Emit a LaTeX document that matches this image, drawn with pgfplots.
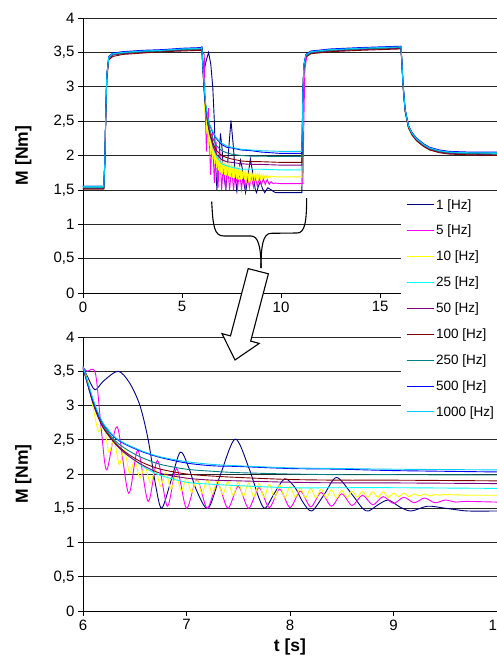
\documentclass[border=0pt]{standalone}
\usepackage{fontspec}
\setmainfont{Liberation Sans}
\usepackage{pgfplots}
\pgfplotsset{compat=1.18}
\usepackage{pgfplotstable}

\definecolor{cOne}{RGB}{0,0,128}
\definecolor{cFive}{RGB}{255,0,255}
\definecolor{cTen}{RGB}{255,255,0}
\definecolor{cTwentyFive}{RGB}{0,255,255}
\definecolor{cFifty}{RGB}{128,0,128}
\definecolor{cHundred}{RGB}{128,0,0}
\definecolor{cTwoFifty}{RGB}{0,128,128}
\definecolor{cFiveHundred}{RGB}{0,0,255}
\definecolor{cThousand}{RGB}{0,204,255}

% 1 Hz
\pgfplotstableread{
t v
0 1.55
1.05 1.55
1.1 1.9
1.15 2.6
1.2 3.15
1.3 3.43
1.5 3.48
2 3.5
3 3.52
4 3.53
5 3.54
5.95 3.56
6.0 3.57
6.05 3.4
6.116 3.23
6.2 3.36
6.34 3.5
6.45 3.33
6.55 3.0
6.63 2.5
6.7 1.85
6.76 1.5
6.85 1.9
6.94 2.32
7.02 2.1
7.1 1.75
7.21 1.5
7.33 2.0
7.47 2.51
7.6 2.1
7.7 1.65
7.76 1.5
7.85 1.72
7.95 1.93
8.05 1.8
8.12 1.6
8.21 1.46
8.33 1.7
8.45 1.95
8.6 1.7
8.7 1.5
8.76 1.46
8.85 1.55
8.95 1.62
9.06 1.52
9.17 1.46
9.33 1.53
9.5 1.5
9.6 1.48
9.72 1.46
10.0 1.46
11.05 1.46
11.1 2.9
11.15 3.3
11.25 3.46
11.5 3.51
12.5 3.54
14 3.56
15 3.57
16.05 3.58
16.1 3.36
16.15 3.06
16.26 2.67
16.43 2.43
16.6 2.33
16.85 2.24
17.2 2.16
17.5 2.11
18 2.07
18.5 2.05
19.5 2.04
20.9 2.03
}\tOne

% 5 Hz
\pgfplotstableread{
t v
0 1.52
1.05 1.52
1.1 1.88
1.15 2.58
1.2 3.13
1.3 3.42
1.5 3.47
2 3.5
3 3.52
4 3.53
5 3.55
5.95 3.56
6.0 3.55
6.04 3.50
6.12 3.47
6.18 2.60
6.23 2.06
6.33 2.69
6.44 1.72
6.53 2.35
6.63 1.60
6.72 2.20
6.815 1.53
6.905 2.08
7.00 1.50
7.10 1.92
7.20 1.50
7.30 1.86
7.40 1.50
7.50 1.82
7.60 1.50
7.70 1.80
7.80 1.51
7.90 1.78
8.00 1.51
8.10 1.75
8.20 1.52
8.30 1.73
8.40 1.53
8.50 1.71
8.60 1.54
8.70 1.69
8.80 1.55
8.90 1.67
9.00 1.57
9.10 1.66
9.20 1.58
9.30 1.65
9.40 1.58
9.50 1.62
9.60 1.59
9.70 1.60
10.0 1.59
11.1 1.59
11.15 2.5
11.2 3.25
11.3 3.45
11.5 3.5
12.5 3.53
14 3.55
15 3.57
16.05 3.58
16.1 3.35
16.15 3.05
16.26 2.66
16.43 2.42
16.6 2.32
16.85 2.23
17.2 2.15
17.5 2.10
18 2.06
18.5 2.04
19.5 2.03
20.9 2.02
}\tFive

% 10 Hz
\pgfplotstableread{
t v
0 1.52
1.05 1.52
1.1 1.9
1.15 2.6
1.2 3.15
1.3 3.42
1.5 3.47
2 3.49
3 3.51
4 3.52
5 3.54
5.95 3.55
6.00 3.55
6.05 3.35
6.10 2.95
6.15 2.62
6.20 2.72
6.25 2.32
6.30 2.50
6.35 2.14
6.40 2.35
6.45 2.01
6.50 2.20
6.55 1.94
6.60 2.12
6.65 1.87
6.70 2.06
6.75 1.82
6.80 2.02
6.85 1.78
6.90 1.98
6.95 1.75
7.00 1.94
7.05 1.73
7.10 1.93
7.15 1.72
7.20 1.92
7.25 1.71
7.30 1.90
7.35 1.70
7.40 1.89
7.45 1.69
7.50 1.88
7.55 1.68
7.60 1.87
7.65 1.67
7.70 1.86
7.75 1.66
7.80 1.85
7.85 1.65
7.90 1.84
7.95 1.65
8.00 1.82
8.05 1.66
8.10 1.80
8.15 1.65
8.20 1.79
8.25 1.65
8.30 1.78
8.35 1.65
8.40 1.77
8.45 1.65
8.50 1.76
8.55 1.66
8.60 1.75
8.65 1.66
8.70 1.75
8.75 1.66
8.80 1.74
8.85 1.66
8.90 1.74
8.95 1.66
9.00 1.72
9.05 1.67
9.10 1.72
9.15 1.67
9.20 1.71
9.25 1.68
9.30 1.71
9.35 1.68
9.40 1.70
9.45 1.69
9.50 1.70
9.75 1.69
10.0 1.69
11.05 1.69
11.1 2.9
11.15 3.3
11.25 3.45
11.5 3.5
12.5 3.53
14 3.55
15 3.56
16.05 3.57
16.1 3.35
16.15 3.05
16.26 2.66
16.43 2.42
16.6 2.32
16.85 2.23
17.2 2.15
17.5 2.10
18 2.06
18.5 2.04
19.5 2.03
20.9 2.02
}\tTen

% 25 Hz
\pgfplotstableread{
t v
0 1.53
1.05 1.53
1.1 1.9
1.15 2.6
1.2 3.15
1.3 3.43
1.5 3.48
2 3.5
3 3.52
4 3.53
5 3.55
5.95 3.56
6.0 3.55
6.05 3.3
6.1 3.05
6.15 2.84
6.2 2.68
6.3 2.48
6.4 2.32
6.5 2.2
6.6 2.09
6.75 1.98
7.0 1.88
7.25 1.85
7.5 1.83
8.0 1.80
8.5 1.80
9.0 1.80
10.0 1.79
11.05 1.79
11.1 2.9
11.15 3.3
11.25 3.46
11.5 3.51
12.5 3.54
14 3.56
15 3.57
16.05 3.58
16.1 3.36
16.15 3.06
16.26 2.67
16.43 2.43
16.6 2.33
16.85 2.24
17.2 2.16
17.5 2.11
18 2.07
18.5 2.05
19.5 2.04
20.9 2.03
}\tTwentyFive

% 50 Hz
\pgfplotstableread{
t v
0 1.52
1.05 1.52
1.1 1.9
1.15 2.6
1.2 3.15
1.3 3.41
1.5 3.46
2 3.48
3 3.5
4 3.52
5 3.53
5.95 3.54
6.0 3.55
6.05 3.28
6.1 3.02
6.15 2.82
6.2 2.66
6.3 2.46
6.4 2.31
6.5 2.2
6.6 2.11
6.75 2.01
7.0 1.94
7.25 1.91
7.5 1.9
8.0 1.88
8.5 1.87
9.0 1.87
10.0 1.86
11.05 1.86
11.1 2.9
11.15 3.3
11.25 3.44
11.5 3.49
12.5 3.52
14 3.54
15 3.55
16.05 3.56
16.1 3.34
16.15 3.04
16.26 2.65
16.43 2.41
16.6 2.31
16.85 2.22
17.2 2.14
17.5 2.09
18 2.05
18.5 2.03
19.5 2.02
20.9 2.01
}\tFifty

% 100 Hz
\pgfplotstableread{
t v
0 1.51
1.05 1.51
1.1 1.85
1.15 2.55
1.2 3.1
1.3 3.39
1.5 3.44
2 3.47
3 3.49
4 3.51
5 3.52
5.95 3.53
6.0 3.55
6.05 3.28
6.1 3.02
6.15 2.82
6.2 2.67
6.3 2.47
6.4 2.33
6.5 2.23
6.6 2.15
6.75 2.07
7.0 2.0
7.25 1.97
7.5 1.95
8.0 1.92
8.5 1.91
9.0 1.91
10.0 1.90
11.05 1.90
11.1 2.85
11.15 3.28
11.25 3.43
11.5 3.48
12.5 3.51
14 3.53
15 3.54
16.05 3.55
16.1 3.33
16.15 3.03
16.26 2.64
16.43 2.4
16.6 2.3
16.85 2.21
17.2 2.13
17.5 2.08
18 2.04
18.5 2.02
19.5 2.01
20.9 2.0
}\tHundred

% 250 Hz
\pgfplotstableread{
t v
0 1.53
1.05 1.53
1.1 1.9
1.15 2.6
1.2 3.15
1.3 3.42
1.5 3.47
2 3.49
3 3.51
4 3.52
5 3.54
5.95 3.55
6.0 3.56
6.05 3.3
6.1 3.05
6.15 2.85
6.2 2.7
6.3 2.5
6.4 2.38
6.5 2.29
6.6 2.22
6.75 2.14
7.0 2.07
7.25 2.04
7.5 2.02
8.0 2.0
8.5 1.99
9.0 1.99
10.0 1.985
11.05 1.985
11.1 2.9
11.15 3.3
11.25 3.45
11.5 3.5
12.5 3.53
14 3.55
15 3.56
16.05 3.57
16.1 3.35
16.15 3.05
16.26 2.66
16.43 2.42
16.6 2.32
16.85 2.23
17.2 2.15
17.5 2.10
18 2.06
18.5 2.04
19.5 2.03
20.9 2.02
}\tTwoFifty

% 500 Hz
\pgfplotstableread{
t v
0 1.55
1.05 1.55
1.1 1.92
1.15 2.62
1.2 3.17
1.3 3.44
1.5 3.49
2 3.51
3 3.53
4 3.54
5 3.56
5.95 3.57
6.0 3.58
6.05 3.3
6.1 3.05
6.15 2.86
6.2 2.72
6.3 2.54
6.4 2.44
6.5 2.37
6.6 2.31
6.75 2.24
7.0 2.16
7.25 2.12
7.5 2.11
8.0 2.08
8.5 2.07
9.0 2.05
10.0 2.03
11.05 2.03
11.1 2.92
11.15 3.32
11.25 3.47
11.5 3.52
12.5 3.55
14 3.57
15 3.58
16.05 3.59
16.1 3.37
16.15 3.07
16.26 2.68
16.43 2.44
16.6 2.34
16.85 2.25
17.2 2.17
17.5 2.12
18 2.08
18.5 2.06
19.5 2.05
20.9 2.05
}\tFiveHundred

% 1000 Hz
\pgfplotstableread{
t v
0 1.55
1.05 1.55
1.1 1.9
1.15 2.6
1.2 3.15
1.3 3.43
1.5 3.48
2 3.5
3 3.52
4 3.53
5 3.55
5.95 3.56
6.0 3.57
6.05 3.32
6.1 3.08
6.15 2.88
6.2 2.73
6.3 2.55
6.4 2.45
6.5 2.38
6.6 2.32
6.75 2.25
7.0 2.18
7.25 2.14
7.5 2.12
8.0 2.09
8.5 2.08
9.0 2.07
10.0 2.06
11.05 2.06
11.1 2.9
11.15 3.31
11.25 3.46
11.5 3.51
12.5 3.54
14 3.56
15 3.57
16.05 3.58
16.1 3.36
16.15 3.06
16.26 2.67
16.43 2.43
16.6 2.33
16.85 2.24
17.2 2.16
17.5 2.11
18 2.07
18.5 2.05
19.5 2.04
20.9 2.04
}\tThousand

\pgfplotsset{
  mystyle/.style={
    scale only axis, width=414pt,
    axis x line*=bottom, axis y line*=left,
    ymin=0, ymax=4, ytick={0,0.5,1,1.5,2,2.5,3,3.5,4},
    ymajorgrids, grid style={black!85, line width=0.7pt},
    tick align=outside, major tick length=5pt,
    tick style={black, line width=0.7pt},
    axis line style={black, line width=0.8pt},
    tick label style={font=\fontsize{15}{18}\selectfont},
    /pgf/number format/use comma,
    /pgf/number format/assume math mode=true,
    every axis y label/.style={at={(axis description cs:-0.133,0.5)}, rotate=90, anchor=base, font=\fontsize{17.5}{20}\selectfont\bfseries},
    ylabel={M [Nm]},
  },
  ln/.style={line width=0.9pt},
}

\begin{document}
\begin{tikzpicture}
\useasboundingbox (0,0) rectangle (497pt,-657pt);

% ---------- bottom (zoomed) axis ----------
\begin{axis}[mystyle, at={(83pt,-611pt)}, anchor=south west, height=274pt,
  xmin=6, xmax=10, xtick={6,7,8,9,10},
  xlabel={t [s]},
  every axis x label/.style={at={(axis description cs:0.5,-0.1496)}, anchor=base, font=\fontsize{17.5}{20}\selectfont\bfseries},
]
\addplot[cOne, ln, smooth, restrict x to domain=5.99:10.01] table[x=t,y=v] {\tOne};
\addplot[cFive, ln, smooth, restrict x to domain=5.99:10.01] table[x=t,y=v] {\tFive};
\addplot[cTen, ln, smooth, restrict x to domain=5.99:10.01] table[x=t,y=v] {\tTen};
\addplot[cTwentyFive, ln, smooth, restrict x to domain=5.99:10.01] table[x=t,y=v] {\tTwentyFive};
\addplot[cFifty, ln, smooth, restrict x to domain=5.99:10.01] table[x=t,y=v] {\tFifty};
\addplot[cHundred, ln, smooth, restrict x to domain=5.99:10.01] table[x=t,y=v] {\tHundred};
\addplot[cTwoFifty, ln, smooth, restrict x to domain=5.99:10.01] table[x=t,y=v] {\tTwoFifty};
\addplot[cFiveHundred, ln, smooth, restrict x to domain=5.99:10.01] table[x=t,y=v] {\tFiveHundred};
\addplot[cThousand, ln, smooth, restrict x to domain=5.99:10.01] table[x=t,y=v] {\tThousand};
\end{axis}

% ---------- top (overview) axis ----------
\begin{axis}[mystyle, at={(83pt,-293pt)}, anchor=south west, height=275pt,
  xmin=0, xmax=20.9, xtick={0,5,10,15},
  legend style={at={(axis description cs:0.768,0.367)}, anchor=north west,
    draw=none, fill=white, font=\fontsize{13.5}{16}\selectfont,
    row sep=10.6pt, inner xsep=5pt, inner ysep=5pt, cells={anchor=west}},
  legend image code/.code={\draw[#1, line width=1pt] (0pt,0pt) -- (27pt,0pt);},
]
\addplot[cOne, ln] table[x=t,y=v] {\tOne}; \addlegendentry{1 [Hz]}
\addplot[cFive, ln] table[x=t,y=v] {\tFive}; \addlegendentry{5 [Hz]}
\addplot[cTen, ln] table[x=t,y=v] {\tTen}; \addlegendentry{10 [Hz]}
\addplot[cTwentyFive, ln] table[x=t,y=v] {\tTwentyFive}; \addlegendentry{25 [Hz]}
\addplot[cFifty, ln] table[x=t,y=v] {\tFifty}; \addlegendentry{50 [Hz]}
\addplot[cHundred, ln] table[x=t,y=v] {\tHundred}; \addlegendentry{100 [Hz]}
\addplot[cTwoFifty, ln] table[x=t,y=v] {\tTwoFifty}; \addlegendentry{250 [Hz]}
\addplot[cFiveHundred, ln] table[x=t,y=v] {\tFiveHundred}; \addlegendentry{500 [Hz]}
\addplot[cThousand, ln] table[x=t,y=v] {\tThousand}; \addlegendentry{1000 [Hz]}
\end{axis}

% ---------- bracket and arrow ----------
\draw[black, line width=1.1pt]
  (211.7pt,-201.7pt) .. controls (213pt,-226pt) and (214pt,-236pt) .. (224pt,-236pt)
  -- (251pt,-236pt) .. controls (258pt,-236pt) and (261pt,-246pt) .. (261pt,-268pt);
\draw[black, line width=1.1pt]
  (261pt,-268pt) .. controls (261pt,-246pt) and (263pt,-233.3pt) .. (271pt,-233.3pt)
  -- (297pt,-233pt) .. controls (305pt,-233pt) and (306.5pt,-222pt) .. (306.7pt,-198pt);
\draw[black, line width=1.1pt, fill=white, line join=miter]
  (248.2pt,-268.6pt) -- (230.5pt,-335.9pt) -- (222.0pt,-333.6pt) -- (235pt,-360pt)
  -- (259.2pt,-343.4pt) -- (250.7pt,-341.1pt) -- (268.4pt,-273.8pt) -- cycle;
\end{tikzpicture}
\end{document}
